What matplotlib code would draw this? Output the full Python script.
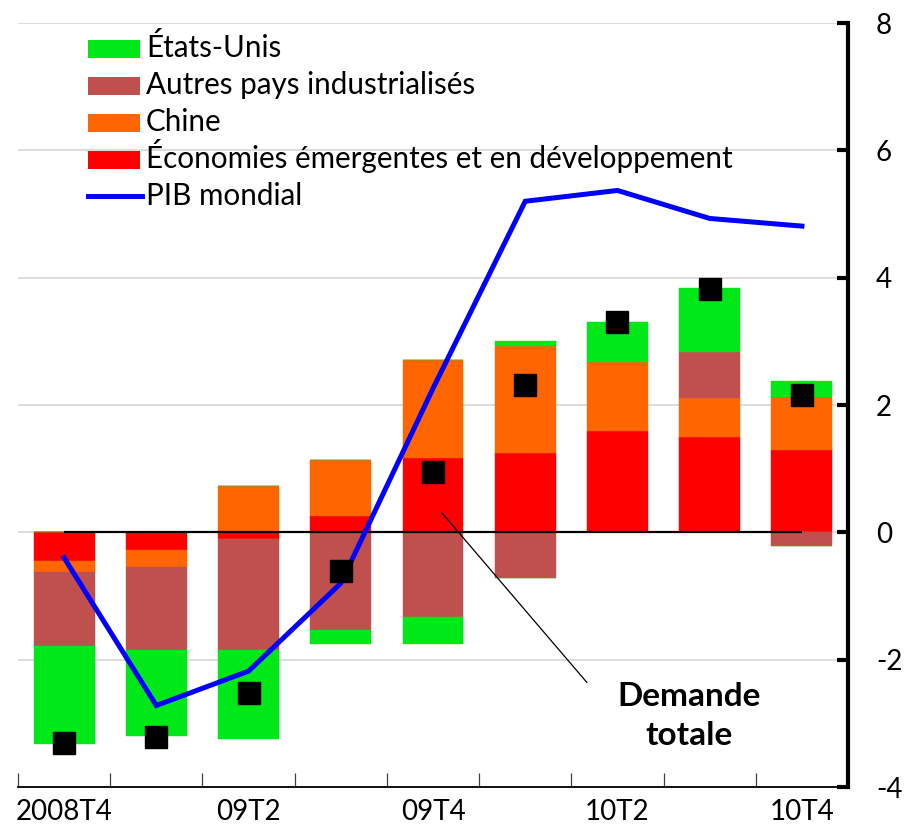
import matplotlib
matplotlib.use("Agg")
import matplotlib.pyplot as plt
import numpy as np
from matplotlib.patches import Rectangle
from matplotlib.lines import Line2D
from matplotlib.ticker import FixedLocator

plt.rcParams['font.family'] = ['Lato', 'DejaVu Sans']

periods = ["2008T4", "09T1", "09T2", "09T3", "09T4", "10T1", "10T2", "10T3", "10T4"]
tick_labels = ["2008T4", "", "09T2", "", "09T4", "", "10T2", "", "10T4"]

# contributions (points de pourcentage)
emergents = [-0.45, -0.28, -0.11, 0.26, 1.17, 1.24, 1.59, 1.50, 1.30]
chine = [-0.17, -0.265, 0.72, 0.87, 1.53, 1.69, 1.08, 0.615, 0.82]
autres_ind = [-1.17, -1.31, -1.745, -1.54, -1.33, -0.71, 0.0, 0.715, -0.215]
etats_unis = [-1.53, -1.345, -1.385, -0.21, -0.43, 0.08, 0.64, 1.0, 0.25]
demande_totale = [-3.31, -3.21, -2.52, -0.61, 0.95, 2.31, 3.31, 3.82, 2.15]
pib_mondial = [-0.40, -2.72, -2.18, -0.80, 2.26, 5.20, 5.37, 4.93, 4.81]

series = [
    ("Économies émergentes et en développement", emergents, "#FF0000"),
    ("Chine", chine, "#FF6600"),
    ("Autres pays industrialisés", autres_ind, "#C0504D"),
    ("États-Unis", etats_unis, "#00E817"),
]
legend_order = [3, 2, 1, 0]
line_label = "PIB mondial"

W, H = 905, 840
fig = plt.figure(figsize=(W / 100, H / 100), dpi=100)
ax = fig.add_axes([18/W, 53/H, (848-18)/W, (787-23)/H])

x = np.arange(len(periods))
pos_base = np.zeros(len(periods))
neg_base = np.zeros(len(periods))
width = 0.66
for name, vals, col in series:
    v = np.array(vals)
    pos = np.where(v > 0, v, 0)
    neg = np.where(v < 0, v, 0)
    ax.bar(x, pos, width, bottom=pos_base, color=col, edgecolor=col, linewidth=0.3, zorder=2)
    ax.bar(x, neg, width, bottom=neg_base, color=col, edgecolor=col, linewidth=0.3, zorder=2)
    pos_base += pos
    neg_base += neg

ax.hlines(0, x[0], x[-1], color="black", lw=1.6, zorder=3)
ax.plot(x, pib_mondial, color="#0000FF", lw=3.6, zorder=4, solid_joinstyle="miter")
ax.plot(x, demande_totale, linestyle="none", marker="s", markersize=15.5,
        color="black", zorder=5)

ax.annotate("", xy=(4.10, 0.30), xytext=(5.67, -2.36),
            arrowprops=dict(arrowstyle="-", color="black", lw=0.9, shrinkA=0, shrinkB=0),
            zorder=6)
ax.text(6.78, -2.88, "Demande\ntotale", ha="center", va="center", fontsize=24,
        fontweight="bold", linespacing=1.42, zorder=6)

ax.set_xlim(-0.5, len(periods) - 0.5)
ax.set_ylim(-4, 8)

# axes styling
for s in ["left", "top"]:
    ax.spines[s].set_visible(False)
ax.spines["right"].set_linewidth(3.0)
ax.spines["bottom"].set_linewidth(1.3)
ax.yaxis.tick_right()
ax.set_yticks([-4, -2, 0, 2, 4, 6, 8])
ax.set_yticklabels(["-4", "-2", "0", "2", "4", "6", "8"])
ax.tick_params(axis="y", direction="in", length=8, width=3, labelsize=20, pad=20)
ax.yaxis.grid(True, color="#d9d9d9", lw=1.3, zorder=0)
ax.set_axisbelow(True)

ax.set_xticks(x)
ax.set_xticklabels(tick_labels)
ax.tick_params(axis="x", which="major", length=0, labelsize=20, pad=9)
ax.xaxis.set_minor_locator(FixedLocator(np.arange(-0.5, len(periods) - 0.4, 1.0)))
ax.tick_params(axis="x", which="minor", direction="in", length=10, width=0.9, color="#404040")

# legend drawn manually for even row spacing
row_base = 57  # baseline of first row in pixels from top
row_step = 37
for i, idx in enumerate(legend_order):
    name, _, col = series[idx]
    b = row_base + i * row_step
    fig.patches.append(Rectangle((88 / W, 1 - (b + 1) / H), 52 / W, 18 / H,
                                 transform=fig.transFigure, facecolor=col,
                                 edgecolor="none"))
    fig.text(146 / W, 1 - b / H, name, fontsize=21.3, ha="left", va="baseline")
b = row_base + 4 * row_step
fig.lines.append(Line2D([88 / W, 142 / W], [1 - (b - 9) / H, 1 - (b - 9) / H],
                        transform=fig.transFigure, color="#0000FF", lw=3.6))
fig.text(146 / W, 1 - b / H, line_label, fontsize=21.3, ha="left", va="baseline")

fig.savefig("out.png", dpi=100)
